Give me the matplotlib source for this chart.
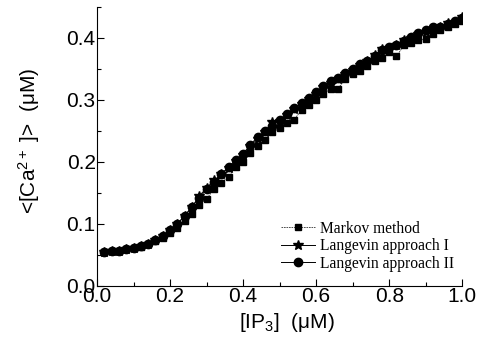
import numpy as np
import matplotlib.pyplot as plt
from matplotlib.ticker import MultipleLocator

# IP3 concentration (uM)
ip3 = np.round(np.arange(0.02, 1.0001, 0.02), 2)

# mean Ca2+ concentration (uM)
markov = [0.055, 0.056, 0.057, 0.059, 0.061, 0.063, 0.067, 0.072, 0.078, 0.086,
          0.094, 0.104, 0.116, 0.130, 0.140, 0.156, 0.166, 0.176, 0.192, 0.200,
          0.214, 0.226, 0.236, 0.248, 0.254, 0.262, 0.268, 0.284, 0.292, 0.300,
          0.310, 0.318, 0.318, 0.334, 0.342, 0.346, 0.354, 0.362, 0.368, 0.378,
          0.370, 0.388, 0.392, 0.396, 0.398, 0.406, 0.412, 0.418, 0.422, 0.428]
langevin1 = [0.055, 0.056, 0.057, 0.059, 0.061, 0.064, 0.068, 0.074, 0.081, 0.090,
             0.100, 0.113, 0.127, 0.145, 0.158, 0.170, 0.180, 0.190, 0.202, 0.211,
             0.226, 0.237, 0.248, 0.265, 0.266, 0.276, 0.285, 0.294, 0.302, 0.310,
             0.320, 0.328, 0.334, 0.342, 0.348, 0.356, 0.362, 0.372, 0.382, 0.384,
             0.388, 0.396, 0.400, 0.406, 0.410, 0.414, 0.418, 0.424, 0.426, 0.434]
langevin2 = [0.055, 0.056, 0.057, 0.059, 0.061, 0.064, 0.068, 0.074, 0.081, 0.090,
             0.100, 0.113, 0.128, 0.142, 0.156, 0.168, 0.180, 0.192, 0.203, 0.213,
             0.228, 0.240, 0.249, 0.258, 0.267, 0.277, 0.287, 0.295, 0.303, 0.312,
             0.322, 0.330, 0.336, 0.343, 0.350, 0.358, 0.362, 0.370, 0.380, 0.385,
             0.389, 0.395, 0.402, 0.408, 0.412, 0.418, 0.418, 0.423, 0.428, 0.432]

plt.rcParams['font.family'] = ['Liberation Sans', 'DejaVu Sans']
plt.rcParams['mathtext.fontset'] = 'custom'
plt.rcParams['mathtext.rm'] = 'Liberation Sans'
plt.rcParams['mathtext.it'] = 'Liberation Sans'

fig = plt.figure(figsize=(4.78, 3.44), dpi=100)
ax = fig.add_axes([0.203, 0.169, 0.764, 0.811])

ax.plot(ip3, markov, color='#333333', lw=0.6, ls=(0, (2, 1)), marker='s', ms=5,
        mfc='black', mec='black', label='Markov method')
ax.plot(ip3, langevin1, color='black', lw=0.7, marker='*', ms=7.5,
        label='Langevin approach I')
ax.plot(ip3, langevin2, color='black', lw=0.7, marker='o', ms=6,
        label='Langevin approach II')

ax.set_xlim(0, 1.0)
ax.set_ylim(0, 0.45)
ax.xaxis.set_major_locator(MultipleLocator(0.2))
ax.xaxis.set_minor_locator(MultipleLocator(0.1))
ax.yaxis.set_major_locator(MultipleLocator(0.1))
ax.yaxis.set_minor_locator(MultipleLocator(0.05))
ax.xaxis.set_major_formatter(plt.FormatStrFormatter('%.1f'))
ax.yaxis.set_major_formatter(plt.FormatStrFormatter('%.1f'))

for side in ['top', 'right']:
    ax.spines[side].set_visible(False)
ax.tick_params(which='both', direction='in', labelsize=15, width=0.8)
ax.tick_params(which='major', length=5, pad=1)
ax.tick_params(which='minor', length=3)

ax.set_xlabel(r'[IP$_3$]  ($\mu$M)', fontsize=15)
ax.set_ylabel(r'<[Ca$^{2+}$ ]>  ($\mu$M)', fontsize=15)
ax.xaxis.set_label_coords(0.52, -0.09)
ax.yaxis.set_label_coords(-0.15, 0.52)

ax.legend(loc='lower right', bbox_to_anchor=(1.016, 0.0), frameon=False,
          prop={'family': 'Liberation Serif', 'size': 11.2},
          handlelength=2.2, handletextpad=0.3, labelspacing=0.1)

fig.savefig('out.png', dpi=100)
